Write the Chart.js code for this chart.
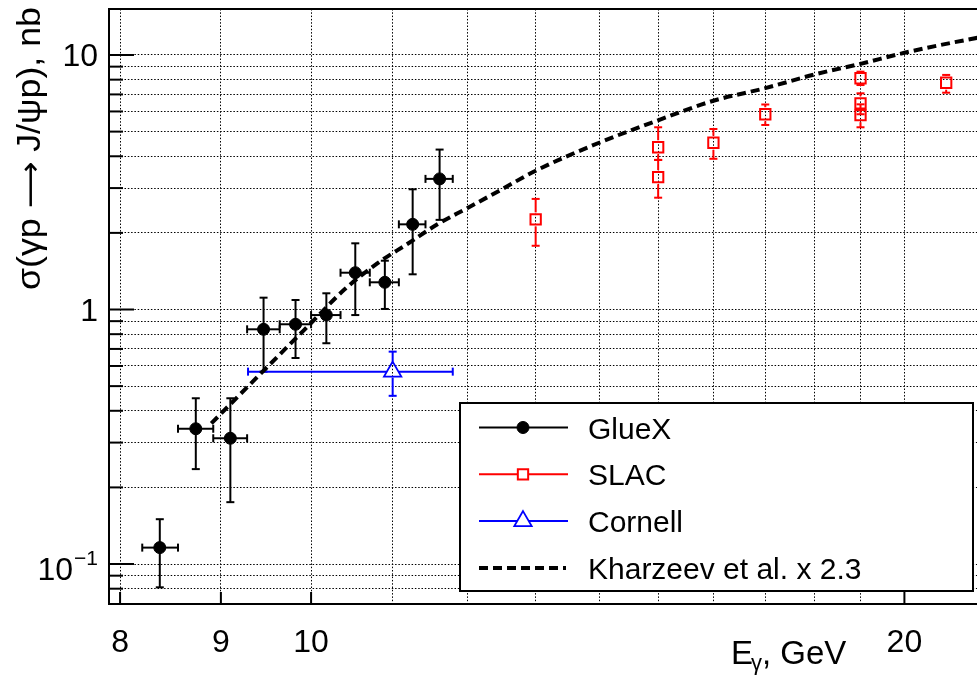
<!DOCTYPE html>
<html>
<head>
<meta charset="utf-8">
<title>J/psi photoproduction</title>
<script src="https://cdn.jsdelivr.net/npm/chart.js@4.4.1/dist/chart.umd.min.js"></script>
<style>
  html, body { margin: 0; padding: 0; background: #fff; }
  canvas { display: block; }
</style>
</head>
<body>
<canvas id="xsec" width="977" height="676"></canvas>
<script>
// GlueX points, E bins and cross section (nb)
const gluexE      = [8.38, 8.74, 9.10, 9.46, 9.82, 10.18, 10.53, 10.90, 11.26, 11.62];
const gluexElo    = [8.21, 8.56, 8.92, 9.28, 9.64, 10.00, 10.35, 10.71, 11.08, 11.43];
const gluexEhi    = [8.56, 8.92, 9.28, 9.64, 10.00, 10.35, 10.71, 11.08, 11.43, 11.80];
const gluexSigma  = [0.116, 0.340, 0.312, 0.836, 0.875, 0.951, 1.395, 1.279, 2.161, 3.26];
const gluexSigLo  = [0.081, 0.236, 0.175, 0.570, 0.645, 0.737, 0.951, 1.005, 1.375, 2.25];
const gluexSigHi  = [0.150, 0.448, 0.448, 1.113, 1.090, 1.158, 1.820, 1.555, 2.967, 4.25];

// SLAC
const slacE     = [13.0, 15.0, 15.0, 16.0, 17.0, 19.0, 19.0, 19.0, 21.0];
const slacSigma = [2.26, 4.34, 3.31, 4.52, 5.85, 8.10, 6.46, 5.80, 7.78];
const slacSigLo = [1.78, 3.87, 2.75, 3.91, 5.31, 7.62, 5.85, 5.20, 7.11];
const slacSigHi = [2.72, 5.20, 3.87, 5.12, 6.39, 8.60, 7.07, 6.40, 8.35];

// Cornell
const cornellE     = [11.0];
const cornellElo   = [9.29];
const cornellEhi   = [11.80];
const cornellSigma = [0.57];
const cornellSigLo = [0.458];
const cornellSigHi = [0.683];

// Kharzeev et al. x 2.3
const kharzeevE     = [8.9, 9.5, 10.0, 10.4, 10.8, 11.2, 11.6, 12.0, 12.5, 13, 14, 15, 16, 17, 18, 19, 20, 21, 21.8];
const kharzeevSigma = [0.357, 0.594, 0.885, 1.20, 1.515, 1.817, 2.17, 2.50, 2.97, 3.51, 4.52, 5.54, 6.61, 7.41, 8.38, 9.23, 10.2, 11.06, 11.7];

// axes
const xGrid = [8, 9, 10, 11, 12, 13, 14, 15, 16, 17, 18, 19, 20];
const xTickVals = [8, 9, 10, 20];
const xTickText = ['8', '9', '10', '20'];
const yGrid = [0.08, 0.09, 0.1, 0.2, 0.3, 0.4, 0.5, 0.6, 0.7, 0.8, 0.9, 1, 2, 3, 4, 5, 6, 7, 8, 9, 10];
const yTickVals = [0.1, 1, 10];
const yTickText = ['10^\u22121', '1', '10'];
const xTitle = ['E', '\u03b3', ', GeV'];
const yTitle = ['\u03c3(\u03b3p ', '\u27f6', ' J/\u03c8p), nb'];

const FONT = '"Liberation Sans", Arial, Helvetica, sans-serif';
Chart.defaults.font.family = FONT;

function pts(xs, ys, lo, hi, xlo, xhi) {
    return xs.map((x, i) => ({
        x: x, y: ys[i],
        yMin: lo ? lo[i] : null, yMax: hi ? hi[i] : null,
        xMin: xlo ? xlo[i] : null, xMax: xhi ? xhi[i] : null
    }));
}

const gridColor = '#000';

const rootStyle = {
    id: 'rootStyle',
    beforeDatasetsDraw(chart) {
        const ctx = chart.ctx;
        const xs = chart.scales.x, ys = chart.scales.y;
        const a = chart.chartArea;
        ctx.save();
        ctx.beginPath();
        ctx.rect(a.left, a.top, a.right - a.left, a.bottom - a.top);
        ctx.clip();
        chart.data.datasets.forEach(ds => {
            if (!ds.errGap) return;
            const g = ds.errGap;
            ctx.strokeStyle = ds.borderColor;
            ctx.lineWidth = 2;
            const cap = 4;
            const seg = (x1, y1, x2, y2) => {
                ctx.beginPath(); ctx.moveTo(x1, y1); ctx.lineTo(x2, y2); ctx.stroke();
            };
            ds.data.forEach(p => {
                const px = xs.getPixelForValue(p.x), py = ys.getPixelForValue(p.y);
                if (p.yMin != null) {
                    const top = ys.getPixelForValue(p.yMax), bot = ys.getPixelForValue(p.yMin);
                    if (top < py - g.top) seg(px, top, px, py - g.top);
                    if (bot > py + g.bottom) seg(px, py + g.bottom, px, bot);
                    seg(px - cap, top, px + cap, top);
                    seg(px - cap, bot, px + cap, bot);
                }
                if (p.xMin != null) {
                    const l = xs.getPixelForValue(p.xMin), r = xs.getPixelForValue(p.xMax);
                    if (l < px - g.side) seg(l, py, px - g.side, py);
                    if (r > px + g.side) seg(px + g.side, py, r, py);
                    seg(l, py - cap, l, py + cap);
                    seg(r, py - cap, r, py + cap);
                }
            });
        });
        ctx.restore();
    },
    afterDraw(chart) {
        const ctx = chart.ctx;
        const xs = chart.scales.x, ys = chart.scales.y;
        const a = chart.chartArea;
        ctx.save();

        // frame
        ctx.strokeStyle = '#000';
        ctx.lineWidth = 2;
        ctx.beginPath();
        ctx.moveTo(a.right + 2, a.top); ctx.lineTo(a.left + 1, a.top);
        ctx.lineTo(a.left + 1, a.bottom); ctx.lineTo(a.right + 2, a.bottom);
        ctx.stroke();

        // y ticks
        yGrid.forEach(v => {
            const py = ys.getPixelForValue(v);
            const len = yTickVals.includes(v) ? 26 : 15;
            ctx.beginPath(); ctx.moveTo(a.left, py); ctx.lineTo(a.left + len, py); ctx.stroke();
        });
        // x ticks
        xTickVals.forEach(v => {
            const px = xs.getPixelForValue(v);
            ctx.beginPath(); ctx.moveTo(px, a.bottom); ctx.lineTo(px, a.bottom - 12); ctx.stroke();
        });

        // tick labels
        ctx.fillStyle = '#000';
        ctx.font = '32px ' + FONT;
        ctx.textAlign = 'center';
        ctx.textBaseline = 'alphabetic';
        xTickVals.forEach((v, i) => {
            ctx.fillText(xTickText[i], xs.getPixelForValue(v), a.bottom + 48);
        });
        yTickVals.forEach((v, i) => {
            const py = ys.getPixelForValue(v);
            const t = yTickText[i];
            const right = 98;
            ctx.textAlign = 'right';
            if (t.includes('^')) {
                const [base, exp] = t.split('^');
                ctx.font = '21px ' + FONT;
                const we = ctx.measureText(exp).width;
                ctx.fillText(exp, right, py + 1);
                ctx.font = '32px ' + FONT;
                ctx.fillText(base, right - we - 1, py + 16);
            } else {
                ctx.font = '32px ' + FONT;
                ctx.fillText(t, right, py + 11.5);
            }
        });

        // x title
        ctx.textAlign = 'left';
        let tx = 731;
        ctx.font = '33px ' + FONT;
        ctx.fillText(xTitle[0], tx, 664);
        tx += ctx.measureText(xTitle[0]).width - 2;
        ctx.font = '22px ' + FONT;
        ctx.fillText(xTitle[1], tx, 670);
        tx += ctx.measureText(xTitle[1]).width;
        ctx.font = '33px ' + FONT;
        ctx.fillText(xTitle[2], tx, 664);

        // y title (rotated, ends at the top of the axis)
        ctx.save();
        ctx.translate(40, 290);
        ctx.rotate(-Math.PI / 2);
        const fonts = ['33px ' + FONT, '30px "DejaVu Sans", ' + FONT, '33px ' + FONT];
        let total = 0;
        yTitle.forEach((s, i) => { ctx.font = fonts[i]; total += ctx.measureText(s).width; });
        ctx.scale(283 / total, 1);
        ctx.textAlign = 'left';
        let cx = 0;
        yTitle.forEach((s, i) => {
            ctx.font = fonts[i];
            ctx.fillText(s, cx, 0);
            cx += ctx.measureText(s).width;
        });
        ctx.restore();

        // legend
        const L = { x0: 460, y0: 403, x1: 973, y1: 591 };
        ctx.fillStyle = '#fff';
        ctx.fillRect(L.x0, L.y0, L.x1 - L.x0, L.y1 - L.y0);
        ctx.strokeStyle = '#000';
        ctx.lineWidth = 2;
        ctx.strokeRect(L.x0, L.y0, L.x1 - L.x0, L.y1 - L.y0);
        chart.data.datasets.forEach((ds, i) => {
            const ry = L.y0 + 24.5 + i * 46.8;
            ctx.save();
            ctx.strokeStyle = ds.borderColor;
            ctx.lineWidth = ds.showLine ? ds.borderWidth : 2;
            ctx.setLineDash(ds.showLine ? ds.borderDash : []);
            ctx.beginPath(); ctx.moveTo(479, ry); ctx.lineTo(ds.showLine ? 566 : 568, ry); ctx.stroke();
            ctx.setLineDash([]);
            if (!ds.showLine) {
                ctx.fillStyle = ds.pointStyle === 'circle' ? ds.backgroundColor : '#fff';
                ctx.lineWidth = ds.pointBorderWidth;
                Chart.helpers.drawPoint(ctx, {
                    pointStyle: ds.pointStyle, radius: ds.pointRadius,
                    borderWidth: ds.pointBorderWidth, rotation: 0
                }, 523, ry);
            }
            ctx.restore();
            ctx.fillStyle = '#000';
            ctx.font = '30px ' + FONT;
            ctx.textAlign = 'left';
            ctx.fillText(ds.label, 588, ry + 11);
        });

        ctx.restore();
    }
};

const ctx = document.getElementById('xsec').getContext('2d');
new Chart(ctx, {
    type: 'scatter',
    data: {
        datasets: [
            {
                label: 'GlueX',
                data: pts(gluexE, gluexSigma, gluexSigLo, gluexSigHi, gluexElo, gluexEhi),
                pointStyle: 'circle', pointRadius: 6, pointBorderWidth: 1,
                backgroundColor: '#000', borderColor: '#000',
                errGap: { top: 0, bottom: 0, side: 0 }
            },
            {
                label: 'SLAC',
                data: pts(slacE, slacSigma, slacSigLo, slacSigHi),
                pointStyle: 'rect', pointRadius: 7.3, pointBorderWidth: 2,
                backgroundColor: 'rgba(0,0,0,0)', borderColor: '#ff0000',
                errGap: { top: 7, bottom: 7, side: 7 }
            },
            {
                label: 'Cornell',
                data: pts(cornellE, cornellSigma, cornellSigLo, cornellSigHi, cornellElo, cornellEhi),
                pointStyle: 'triangle', pointRadius: 10, pointBorderWidth: 1.8,
                backgroundColor: 'rgba(0,0,0,0)', borderColor: '#0000ff',
                errGap: { top: 10, bottom: 6, side: 6 }
            },
            {
                label: 'Kharzeev et al. x 2.3',
                data: pts(kharzeevE, kharzeevSigma),
                showLine: true, pointRadius: 0,
                borderColor: '#000', borderWidth: 4, borderDash: [9, 5],
                cubicInterpolationMode: 'monotone', fill: false
            }
        ]
    },
    options: {
        responsive: false,
        animation: false,
        devicePixelRatio: 1,
        layout: { autoPadding: false, padding: { top: 9, left: 0, right: 0, bottom: 0 } },
        plugins: { legend: { display: false }, tooltip: { enabled: false } },
        scales: {
            x: {
                type: 'logarithmic', min: 7.888, max: 21.77, bounds: 'data',
                afterBuildTicks: s => { s.ticks = xGrid.map(v => ({ value: v })); },
                afterFit: s => { s.height = 72; },
                ticks: { display: false },
                grid: { color: gridColor, lineWidth: 1, drawTicks: false },
                border: { display: false, dash: [1.5, 1.8] }
            },
            y: {
                type: 'logarithmic', min: 0.06965, max: 15.16, bounds: 'data',
                afterBuildTicks: s => { s.ticks = yGrid.map(v => ({ value: v })); },
                afterFit: s => { s.width = 108; },
                ticks: { display: false },
                grid: { color: gridColor, lineWidth: 1, drawTicks: false },
                border: { display: false, dash: [1.5, 1.8] }
            }
        }
    },
    plugins: [rootStyle]
});
</script>
</body>
</html>
